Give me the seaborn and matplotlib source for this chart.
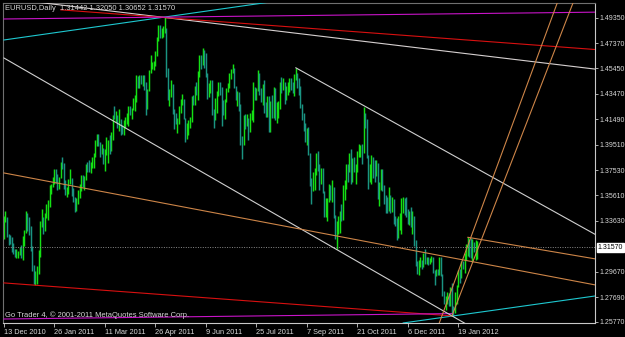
import matplotlib
matplotlib.use("Agg")
import matplotlib.pyplot as plt
import seaborn as sns
import pandas as pd
import numpy as np

# ---------------- data ----------------
date_labels = ["13 Dec 2010", "26 Jan 2011", "11 Mar 2011", "26 Apr 2011", "9 Jun 2011",
               "25 Jul 2011", "7 Sep 2011", "21 Oct 2011", "6 Dec 2011", "19 Jan 2012"]
date_label_bars = [0, 32, 64, 96, 128, 160, 192, 224, 256, 288]

price_ticks = [1.4935, 1.4737, 1.4545, 1.4347, 1.4149, 1.3951, 1.3753, 1.3561,
               1.3363, 1.2967, 1.2769, 1.2577]

opens = [
1.3225,1.3375,1.3385,1.3245,1.3235, 1.3190,1.3150,1.3125,1.3085,1.3100,
1.3110,1.3150,1.3085,1.3235,1.3285, 1.3380,1.3350,1.3310,1.3135,1.2985,
1.2910,1.2955,1.2975,1.3120,1.3350, 1.3380,1.3305,1.3405,1.3455,1.3500,
1.3615,1.3620,1.3680,1.3720,1.3700, 1.3610,1.3695,1.3810,1.3800,1.3640,
1.3580,1.3590,1.3660,1.3680,1.3590, 1.3535,1.3490,1.3520,1.3550,1.3600,
1.3700,1.3670,1.3690,1.3800,1.3780, 1.3750,1.3800,1.3830,1.3880,1.3980,
1.3990,1.3960,1.3910,1.3920,1.3830, 1.3910,1.3960,1.3980,1.3920,1.4000,
1.4180,1.4150,1.4170,1.4100,1.4150, 1.4080,1.4070,1.4130,1.4130,1.4170,
1.4230,1.4220,1.4230,1.4300,1.4300, 1.4480,1.4420,1.4480,1.4430,1.4470,
1.4430,1.4240,1.4370,1.4520,1.4560, 1.4570,1.4580,1.4650,1.4780,1.4810,
1.4800,1.4830,1.4830,1.4830,1.4530, 1.4320,1.4350,1.4400,1.4200,1.4140,
1.4120,1.4130,1.4240,1.4300,1.4300, 1.4160,1.4030,1.4100,1.4130,1.4130,
1.4320,1.4300,1.4390,1.4370,1.4500, 1.4640,1.4580,1.4660,1.4620,1.4500,
1.4340,1.4400,1.4450,1.4180,1.4150, 1.4300,1.4350,1.4400,1.4390,1.4240,
1.4190,1.4300,1.4380,1.4410,1.4500, 1.4520,1.4530,1.4400,1.4320,1.4360,
1.4260,1.4000,1.3970,1.4160,1.4150, 1.4150,1.4090,1.4150,1.4190,1.4380,
1.4360,1.4380,1.4500,1.4370,1.4340, 1.4400,1.4240,1.4200,1.4290,1.4120,
1.4270,1.4200,1.4340,1.4150,1.4230, 1.4240,1.4410,1.4400,1.4430,1.4310,
1.4390,1.4390,1.4450,1.4410,1.4400, 1.4490,1.4500,1.4450,1.4380,1.4250,
1.4190,1.4100,1.4000,1.4060,1.3880, 1.3650,1.3630,1.3690,1.3760,1.3870,
1.3800,1.3680,1.3700,1.3580,1.3460, 1.3500,1.3530,1.3590,1.3540,1.3600,
1.3390,1.3240,1.3350,1.3350,1.3420, 1.3380,1.3620,1.3620,1.3780,1.3760,
1.3880,1.3730,1.3780,1.3760,1.3780, 1.3890,1.3900,1.3920,1.3900,1.4180,
1.4140,1.3860,1.3690,1.3770,1.3800, 1.3780,1.3760,1.3800,1.3540,1.3610,
1.3740,1.3610,1.3530,1.3470,1.3460, 1.3520,1.3480,1.3520,1.3340,1.3320,
1.3240,1.3310,1.3330,1.3440,1.3460, 1.3450,1.3410,1.3390,1.3410,1.3340,
1.3380,1.3190,1.3020,1.2980,1.3020, 1.3040,1.3010,1.3070,1.3040,1.3050,
1.3040,1.3050,1.3070,1.2960,1.2950, 1.2960,1.2950,1.3050,1.2940,1.2790,
1.2720,1.2760,1.2790,1.2720,1.2810, 1.2680,1.2660,1.2740,1.2850,1.2960,
1.2930,1.3040,1.3030,1.3100,1.3100, 1.3210,1.3140,1.3080,1.3160,1.3150,
1.3144]

highs = [
1.3400,1.3440,1.3390,1.3260,1.3255, 1.3235,1.3190,1.3140,1.3145,1.3130,
1.3155,1.3175,1.3245,1.3290,1.3435, 1.3420,1.3395,1.3320,1.3165,1.3020,
1.2975,1.3010,1.3135,1.3360,1.3455, 1.3390,1.3425,1.3490,1.3520,1.3640,
1.3650,1.3705,1.3760,1.3760,1.3725, 1.3705,1.3820,1.3860,1.3810,1.3675,
1.3620,1.3685,1.3760,1.3690,1.3615, 1.3545,1.3535,1.3600,1.3650,1.3720,
1.3715,1.3710,1.3800,1.3815,1.3830, 1.3815,1.3860,1.3890,1.3990,1.4035,
1.4035,1.3975,1.3955,1.3925,1.3920, 1.4010,1.3985,1.4030,1.4050,1.4185,
1.4250,1.4215,1.4185,1.4225,1.4155, 1.4105,1.4140,1.4170,1.4200,1.4250,
1.4250,1.4240,1.4315,1.4340,1.4490, 1.4485,1.4490,1.4495,1.4490,1.4490,
1.4440,1.4385,1.4530,1.4650,1.4590, 1.4600,1.4680,1.4785,1.4880,1.4880,
1.4860,1.4870,1.4940,1.4860,1.4550, 1.4385,1.4450,1.4420,1.4225,1.4195,
1.4160,1.4250,1.4310,1.4345,1.4310, 1.4160,1.4120,1.4145,1.4170,1.4330,
1.4340,1.4410,1.4440,1.4520,1.4650, 1.4650,1.4700,1.4690,1.4665,1.4510,
1.4430,1.4450,1.4450,1.4230,1.4315, 1.4370,1.4440,1.4440,1.4400,1.4295,
1.4305,1.4390,1.4430,1.4510,1.4540, 1.4580,1.4550,1.4410,1.4370,1.4360,
1.4270,1.4020,1.4180,1.4190,1.4190, 1.4160,1.4200,1.4220,1.4440,1.4400,
1.4390,1.4530,1.4510,1.4390,1.4420, 1.4450,1.4280,1.4330,1.4330,1.4290,
1.4340,1.4400,1.4390,1.4280,1.4290, 1.4440,1.4480,1.4470,1.4440,1.4410,
1.4440,1.4470,1.4470,1.4440,1.4500, 1.4549,1.4510,1.4470,1.4410,1.4270,
1.4200,1.4120,1.4080,1.4090,1.3890, 1.3690,1.3740,1.3770,1.3890,1.3900,
1.3800,1.3770,1.3770,1.3590,1.3540, 1.3540,1.3650,1.3640,1.3680,1.3620,
1.3410,1.3360,1.3400,1.3440,1.3490, 1.3640,1.3680,1.3800,1.3800,1.3890,
1.3915,1.3850,1.3860,1.3800,1.3900, 1.3960,1.3950,1.3960,1.4247,1.4200,
1.4150,1.3870,1.3800,1.3870,1.3860, 1.3830,1.3830,1.3810,1.3660,1.3760,
1.3760,1.3640,1.3560,1.3550,1.3620, 1.3560,1.3550,1.3530,1.3400,1.3380,
1.3400,1.3420,1.3540,1.3550,1.3540, 1.3550,1.3450,1.3440,1.3470,1.3440,
1.3400,1.3210,1.3050,1.3060,1.3080, 1.3060,1.3110,1.3140,1.3080,1.3080,
1.3070,1.3090,1.3080,1.2980,1.2990, 1.2990,1.3080,1.3080,1.2950,1.2820,
1.2780,1.2810,1.2800,1.2850,1.2880, 1.2700,1.2810,1.2860,1.2980,1.2990,
1.3050,1.3050,1.3110,1.3180,1.3234, 1.3220,1.3230,1.3220,1.3200,1.3210,
1.3205]

lows = [
1.3220,1.3350,1.3235,1.3175,1.3180, 1.3120,1.3105,1.3080,1.3075,1.3075,
1.3100,1.3070,1.3060,1.3170,1.3270, 1.3280,1.3255,1.3125,1.2970,1.2875,
1.2860,1.2870,1.2950,1.3080,1.3315, 1.3260,1.3280,1.3385,1.3365,1.3470,
1.3570,1.3620,1.3650,1.3655,1.3600, 1.3610,1.3690,1.3760,1.3610,1.3560,
1.3545,1.3570,1.3650,1.3555,1.3505, 1.3430,1.3440,1.3490,1.3535,1.3590,
1.3620,1.3600,1.3680,1.3740,1.3740, 1.3730,1.3775,1.3775,1.3855,1.3940,
1.3940,1.3860,1.3880,1.3800,1.3745, 1.3870,1.3810,1.3880,1.3900,1.3985,
1.4150,1.4130,1.4080,1.4060,1.4030, 1.4035,1.4025,1.4080,1.4110,1.4100,
1.4180,1.4150,1.4220,1.4210,1.4285, 1.4390,1.4395,1.4425,1.4410,1.4380,
1.4180,1.4230,1.4365,1.4510,1.4540, 1.4535,1.4560,1.4640,1.4760,1.4780,
1.4780,1.4785,1.4815,1.4480,1.4300, 1.4250,1.4320,1.4190,1.4070,1.4110,
1.4040,1.4110,1.4200,1.4260,1.4150, 1.3970,1.4000,1.4030,1.4080,1.4125,
1.4260,1.4260,1.4340,1.4300,1.4480, 1.4540,1.4570,1.4550,1.4480,1.4310,
1.4320,1.4350,1.4180,1.4080,1.4140, 1.4200,1.4330,1.4340,1.4100,1.4180,
1.4150,1.4280,1.4360,1.4390,1.4460, 1.4510,1.4390,1.4300,1.4250,1.4215,
1.3950,1.3840,1.3950,1.4075,1.4100, 1.3985,1.4050,1.4140,1.4130,1.4300,
1.4300,1.4370,1.4340,1.4280,1.4260, 1.4200,1.4170,1.4170,1.4050,1.4050,
1.4160,1.4160,1.4140,1.4120,1.4160, 1.4230,1.4350,1.4380,1.4270,1.4300,
1.4340,1.4360,1.4380,1.4350,1.4330, 1.4450,1.4390,1.4340,1.4240,1.4140,
1.4060,1.3975,1.3950,1.3870,1.3630, 1.3495,1.3590,1.3600,1.3720,1.3750,
1.3600,1.3650,1.3580,1.3390,1.3390, 1.3360,1.3510,1.3520,1.3510,1.3380,
1.3220,1.3145,1.3260,1.3270,1.3360, 1.3370,1.3520,1.3610,1.3660,1.3740,
1.3650,1.3660,1.3740,1.3650,1.3740, 1.3860,1.3860,1.3800,1.3890,1.4080,
1.3850,1.3610,1.3660,1.3650,1.3690, 1.3660,1.3710,1.3530,1.3480,1.3600,
1.3590,1.3490,1.3420,1.3420,1.3440, 1.3420,1.3430,1.3340,1.3320,1.3210,
1.3230,1.3290,1.3260,1.3420,1.3410, 1.3390,1.3340,1.3330,1.3310,1.3260,
1.3170,1.3010,1.2950,1.2945,1.3000, 1.2990,1.3000,1.3030,1.3030,1.3020,
1.3030,1.3040,1.2960,1.2860,1.2930, 1.2940,1.2940,1.2930,1.2780,1.2720,
1.2670,1.2720,1.2700,1.2700,1.2624, 1.2625,1.2650,1.2720,1.2850,1.2880,
1.2920,1.2990,1.2960,1.3060,1.3090, 1.3080,1.3070,1.3040,1.3120,1.3060,
1.3065]

closes = [
1.3375,1.3385,1.3245,1.3235,1.3190, 1.3150,1.3125,1.3085,1.3100,1.3110,
1.3150,1.3085,1.3235,1.3285,1.3380, 1.3350,1.3310,1.3135,1.2985,1.2910,
1.2955,1.2975,1.3120,1.3350,1.3380, 1.3305,1.3405,1.3455,1.3500,1.3615,
1.3620,1.3680,1.3720,1.3700,1.3610, 1.3695,1.3810,1.3800,1.3640,1.3580,
1.3590,1.3660,1.3680,1.3590,1.3535, 1.3490,1.3520,1.3550,1.3600,1.3700,
1.3670,1.3690,1.3800,1.3780,1.3750, 1.3800,1.3830,1.3880,1.3980,1.3990,
1.3960,1.3910,1.3920,1.3830,1.3910, 1.3960,1.3980,1.3920,1.4000,1.4180,
1.4150,1.4170,1.4100,1.4150,1.4080, 1.4070,1.4130,1.4130,1.4170,1.4230,
1.4220,1.4230,1.4300,1.4300,1.4480, 1.4420,1.4480,1.4430,1.4470,1.4430,
1.4240,1.4370,1.4520,1.4560,1.4570, 1.4580,1.4650,1.4780,1.4810,1.4800,
1.4830,1.4830,1.4830,1.4530,1.4320, 1.4350,1.4400,1.4200,1.4140,1.4120,
1.4130,1.4240,1.4300,1.4300,1.4160, 1.4030,1.4100,1.4130,1.4130,1.4320,
1.4300,1.4390,1.4370,1.4500,1.4640, 1.4580,1.4660,1.4620,1.4500,1.4340,
1.4400,1.4450,1.4180,1.4150,1.4300, 1.4350,1.4400,1.4390,1.4240,1.4190,
1.4300,1.4380,1.4410,1.4500,1.4520, 1.4530,1.4400,1.4320,1.4360,1.4260,
1.4000,1.3970,1.4160,1.4150,1.4150, 1.4090,1.4150,1.4190,1.4380,1.4360,
1.4380,1.4500,1.4370,1.4340,1.4400, 1.4240,1.4200,1.4290,1.4120,1.4270,
1.4200,1.4340,1.4150,1.4230,1.4240, 1.4410,1.4400,1.4430,1.4310,1.4390,
1.4390,1.4450,1.4410,1.4400,1.4490, 1.4500,1.4450,1.4380,1.4250,1.4190,
1.4100,1.4000,1.4060,1.3880,1.3650, 1.3630,1.3690,1.3760,1.3870,1.3800,
1.3680,1.3700,1.3580,1.3460,1.3500, 1.3530,1.3590,1.3540,1.3600,1.3390,
1.3240,1.3350,1.3350,1.3420,1.3380, 1.3620,1.3620,1.3780,1.3760,1.3880,
1.3730,1.3780,1.3760,1.3780,1.3890, 1.3900,1.3920,1.3900,1.4180,1.4140,
1.3860,1.3690,1.3770,1.3800,1.3780, 1.3760,1.3800,1.3540,1.3610,1.3740,
1.3610,1.3530,1.3470,1.3460,1.3520, 1.3480,1.3520,1.3340,1.3320,1.3240,
1.3310,1.3330,1.3440,1.3460,1.3450, 1.3410,1.3390,1.3410,1.3340,1.3380,
1.3190,1.3020,1.2980,1.3020,1.3040, 1.3010,1.3070,1.3040,1.3050,1.3040,
1.3050,1.3070,1.2960,1.2950,1.2960, 1.2950,1.3050,1.2940,1.2790,1.2720,
1.2760,1.2790,1.2720,1.2810,1.2680, 1.2660,1.2740,1.2850,1.2960,1.2930,
1.3040,1.3030,1.3100,1.3100,1.3210, 1.3140,1.3080,1.3160,1.3150,1.3150,
1.3157]

current_price = 1.3157
header = "EURUSD,Daily  1.31442 1.32050 1.30652 1.31570"
copyright_text = "Go Trader 4, \u00a9 2001-2011 MetaQuotes Software Corp."

# trend objects: bar endpoints and price endpoints
cyan_upper_bars, cyan_upper_prices = [0, 169], [1.4764, 1.5059]
cyan_lower_bars, cyan_lower_prices = [253, 375], [1.2569, 1.2779]
white_peak_bars, white_peak_prices = [20, 375], [1.5059, 1.4538]
red_upper_bars, red_upper_prices = [36, 375], [1.4998, 1.4690]
red_lower_bars, red_lower_prices = [0, 284], [1.2880, 1.2624]
mag_upper_bars, mag_upper_prices = [0, 375], [1.4927, 1.4980]
mag_lower_bars, mag_lower_prices = [0, 284], [1.2600, 1.2642]
white_lower_bars, white_lower_prices = [0, 294], [1.4625, 1.2554]
white_upper_bars, white_upper_prices = [185, 375], [1.4549, 1.3255]
orange_long_bars, orange_long_prices = [0, 375], [1.3733, 1.2864]
orange_short_bars, orange_short_prices = [294, 375], [1.3234, 1.3066]
steep1_bars, steep1_prices = [276, 351], [1.2569, 1.5059]
steep2_bars, steep2_prices = [284, 361], [1.2624, 1.5059]

# ---------------- styling ----------------
sns.set_theme(style="dark")
FG = "#d8d8d8"
plt.rcParams["font.family"] = ["Liberation Sans", "DejaVu Sans"]

fig = plt.figure(figsize=(6.25, 3.37), dpi=100, facecolor="black")
ax = fig.add_axes([3 / 625, 14 / 337, 592 / 625, 320 / 337])
ax.set_facecolor("black")

n = len(closes)
bars = pd.DataFrame({"bar": np.arange(n), "open": opens, "high": highs,
                     "low": lows, "close": closes})
up = bars["close"] >= bars["open"]
ax.vlines(bars.loc[up, "bar"], bars.loc[up, "low"], bars.loc[up, "high"],
          color="#14e014", lw=1.05, zorder=2)
ax.vlines(bars.loc[~up, "bar"], bars.loc[~up, "low"], bars.loc[~up, "high"],
          color="#1a9482", lw=1.05, zorder=2)

lines = [
    ("cyan_u", cyan_upper_bars, cyan_upper_prices, "#1ec8d0"),
    ("cyan_l", cyan_lower_bars, cyan_lower_prices, "#1ec8d0"),
    ("white_p", white_peak_bars, white_peak_prices, "#d6d0d0"),
    ("red_u", red_upper_bars, red_upper_prices, "#d81010"),
    ("red_l", red_lower_bars, red_lower_prices, "#d81010"),
    ("mag_u", mag_upper_bars, mag_upper_prices, "#c814c8"),
    ("mag_l", mag_lower_bars, mag_lower_prices, "#c814c8"),
    ("white_l", white_lower_bars, white_lower_prices, "#d0d0d0"),
    ("white_u", white_upper_bars, white_upper_prices, "#d0d0d0"),
    ("or_long", orange_long_bars, orange_long_prices, "#cd8548"),
    ("or_short", orange_short_bars, orange_short_prices, "#cd8548"),
    ("steep1", steep1_bars, steep1_prices, "#cd8548"),
    ("steep2", steep2_bars, steep2_prices, "#cd8548"),
]
rows = []
for name, bx, py, _ in lines:
    for b, p in zip(bx, py):
        rows.append({"line": name, "bar": b, "price": p})
ldf = pd.DataFrame(rows)
palette = {name: col for name, _, _, col in lines}
sns.lineplot(data=ldf, x="bar", y="price", hue="line", palette=palette,
             estimator=None, sort=False, legend=False, lw=0.8, ax=ax, zorder=3)

ax.axhline(current_price, color="#8a8a8a", lw=0.7, ls=(0, (1, 1.5)), zorder=2.5)

ax.set_xlim(-0.5, 374.7)
ax.set_ylim(1.2569, 1.5051)
ax.set_xlabel("")
ax.set_ylabel("")
ax.grid(False)

ax.set_xticks(date_label_bars)
ax.set_xticklabels(date_labels)
for lbl in ax.get_xticklabels():
    lbl.set_horizontalalignment("left")
ax.yaxis.tick_right()
ax.set_yticks(price_ticks)
ax.set_yticklabels([f"{v:.5f}" for v in price_ticks])
ax.tick_params(axis="x", direction="out", length=3, width=0.6, color="#c8c8c8",
               labelsize=5.3, labelcolor=FG, pad=1.5, bottom=True)
ax.tick_params(axis="y", direction="out", length=2.2, width=0.6, color="#c8c8c8",
               labelsize=5.0, labelcolor=FG, pad=0.8, right=True, left=False)

for side in ["top", "left"]:
    ax.spines[side].set_color("#707070")
    ax.spines[side].set_linewidth(0.8)
for side in ["right", "bottom"]:
    ax.spines[side].set_color("#c8c8c8")
    ax.spines[side].set_linewidth(0.8)
for s in ax.spines.values():
    s.set_visible(True)

ax.text(0.003, 0.982, header, transform=ax.transAxes, color=FG, fontsize=5.4,
        va="center", ha="left", zorder=5)
ax.text(0.003, 0.026, copyright_text, transform=ax.transAxes, color=FG, fontsize=5.4,
        va="center", ha="left", zorder=5)

ax.annotate(f"{current_price:.5f}", xy=(1.0, current_price),
            xycoords=("axes fraction", "data"), xytext=(2.0, 0),
            textcoords="offset points", ha="left", va="center", fontsize=5.0,
            color="black", annotation_clip=False,
            bbox=dict(boxstyle="square,pad=0.15", fc="white", ec="white"))

fig.savefig("out.png", dpi=100, facecolor="black")
